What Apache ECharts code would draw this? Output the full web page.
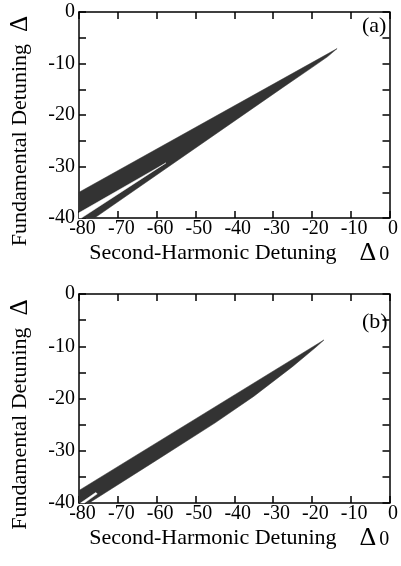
<!DOCTYPE html>
<html>
<head>
<meta charset="utf-8">
<script src="https://cdn.jsdelivr.net/npm/echarts@6/dist/echarts.min.js"></script>
<style>
  html, body { margin: 0; padding: 0; background: #fff; }
  #chart { width: 401px; height: 566px; }
</style>
</head>
<body>
<div id="chart"></div>
<script>
// outline of the dark region, panel (a): upper edge then lower edge back
const bandA = [[-80, -35.0], [-13.5, -7.1], [-16, -8.7], [-20, -10.8], [-27, -14.4],
  [-76, -40], [-80, -40]];
// white gap inside the band, panel (a)
const gapA = [[-80, -39.0], [-57.6, -29.3], [-79.4, -40], [-80, -40]];
// panel (b)
const bandB = [[-80, -37.6], [-16.9, -8.8], [-19, -10.2], [-25, -13.9], [-35, -19.6],
  [-45, -24.7], [-60, -31.8], [-77.4, -40], [-80, -40]];
const gapB = [[-79.6, -40], [-75.7, -38.0], [-75.3, -38.25], [-78.6, -40]];

const panelLabels = ['(a)', '(b)'];
const xTitle = 'Second-Harmonic Detuning{d|Δ}{s|0}';
const yTitle = 'Fundamental Detuning{d|Δ}';

const chartDom = document.getElementById('chart');
const myChart = echarts.init(chartDom);

const FONT = 'Liberation Serif';
function axisLine() {
  return { show: true, onZero: false, lineStyle: { color: '#000', width: 1.5 } };
}
function tick() {
  return { show: true, inside: true, length: 7, lineStyle: { color: '#000', width: 1.5 } };
}

function polySeries(points, color, idx) {
  return {
    type: 'custom',
    xAxisIndex: idx * 2,
    yAxisIndex: idx * 2,
    data: points,
    silent: true,
    renderItem: function (params, api) {
      if (params.dataIndex !== 0) return null;
      return {
        type: 'polygon',
        shape: { points: points.map(p => api.coord(p)) },
        style: { fill: color, stroke: color, lineWidth: 0.5 }
      };
    }
  };
}

const grids = [
  { left: 78, top: 12, width: 313, height: 206 },
  { left: 78, top: 294, width: 313, height: 209 }
];

const xAxes = [];
const yAxes = [];
grids.forEach((g, i) => {
  xAxes.push({
    gridIndex: i, type: 'value', min: -80, max: 0, interval: 10, position: 'bottom',
    axisLine: axisLine(), axisTick: tick(), splitLine: { show: false },
    axisLabel: { color: '#000', fontFamily: FONT, fontSize: 20, margin: 1, padding: [0, 0, 0, 7] },
    name: xTitle, nameLocation: 'middle', nameGap: 18,
    nameTextStyle: {
      color: '#000', fontFamily: FONT, fontSize: 22, padding: [0, 0, 0, 10],
      rich: {
        d: { fontFamily: FONT, fontSize: 26, color: '#000', padding: [0, 0, 0, 23] },
        s: { fontFamily: FONT, fontSize: 20, color: '#000', padding: [3, 0, 0, 3] }
      }
    }
  });
  xAxes.push({
    gridIndex: i, type: 'value', min: -80, max: 0, interval: 10, position: 'top',
    axisLine: axisLine(), axisTick: tick(), axisLabel: { show: false }, splitLine: { show: false }
  });
  yAxes.push({
    gridIndex: i, type: 'value', min: -40, max: 0, interval: 5, position: 'left',
    axisLine: axisLine(), axisTick: tick(), splitLine: { show: false },
    axisLabel: {
      color: '#000', fontFamily: FONT, fontSize: 20, margin: 4,
      formatter: v => (v % 10 === 0 ? String(v) : '')
    },
    name: yTitle, nameLocation: 'middle', nameGap: 46,
    nameTextStyle: {
      color: '#000', fontFamily: FONT, fontSize: 22, padding: [0, 32, 0, 0],
      rich: {
        d: { fontFamily: FONT, fontSize: 25, color: '#000', padding: [0, 0, 0, 12] }
      }
    }
  });
  yAxes.push({
    gridIndex: i, type: 'value', min: -40, max: 0, interval: 5, position: 'right',
    axisLine: axisLine(), axisTick: tick(), axisLabel: { show: false }, splitLine: { show: false }
  });
});

const option = {
  animation: false,
  backgroundColor: '#fff',
  grid: grids,
  xAxis: xAxes,
  yAxis: yAxes,
  graphic: [
    { type: 'text', left: 362, top: 15, style: { text: panelLabels[0], font: '22px "Liberation Serif"', fill: '#000' } },
    { type: 'text', left: 362, top: 311, style: { text: panelLabels[1], font: '22px "Liberation Serif"', fill: '#000' } }
  ],
  series: [
    polySeries(bandA, '#333', 0),
    polySeries(gapA, '#fff', 0),
    polySeries(bandB, '#333', 1),
    polySeries(gapB, '#fff', 1)
  ]
};

myChart.setOption(option);
</script>
</body>
</html>
